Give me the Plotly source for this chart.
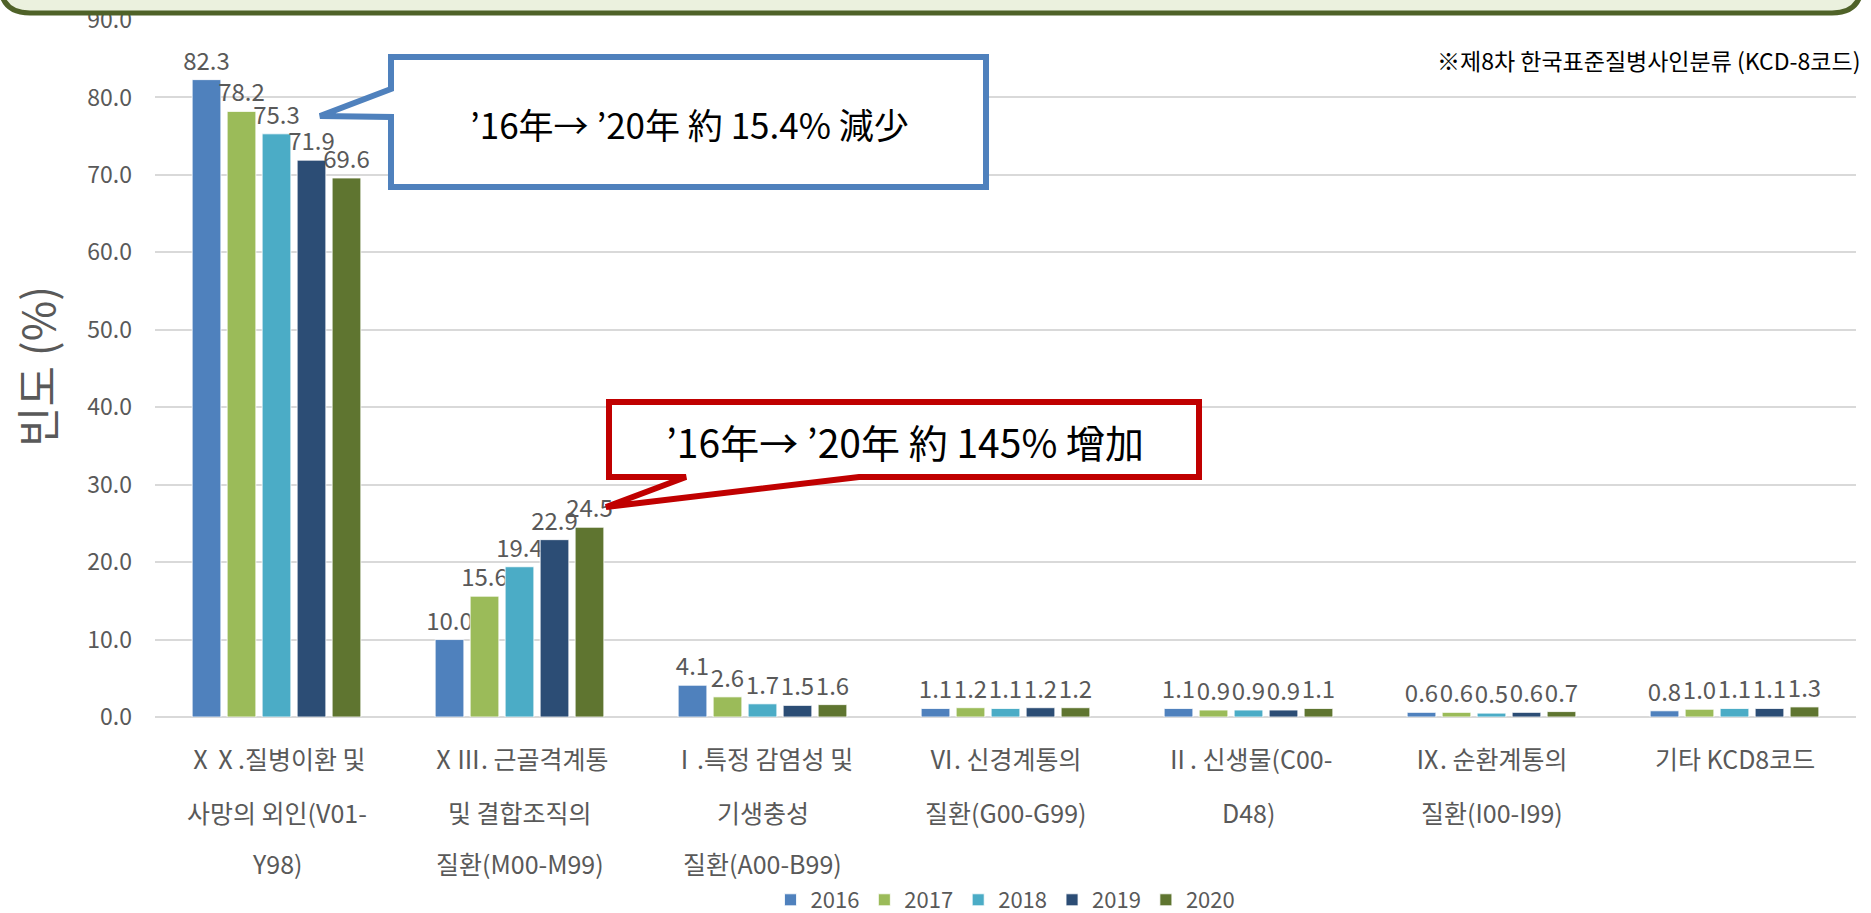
import plotly.graph_objects as go

# ---------------- data ----------------
categories = [
    "ⅩⅩ.질병이환 및 사망의 외인(V01-Y98)",
    "ⅩⅢ. 근골격계통 및 결합조직의 질환(M00-M99)",
    "Ⅰ.특정 감염성 및 기생충성 질환(A00-B99)",
    "Ⅵ. 신경계통의 질환(G00-G99)",
    "Ⅱ. 신생물(C00-D48)",
    "Ⅸ. 순환계통의 질환(I00-I99)",
    "기타 KCD8코드",
]
category_lines = [
    ["ⅩⅩ.질병이환 및", "사망의 외인(V01-", "Y98)"],
    ["ⅩⅢ. 근골격계통", "및 결합조직의", "질환(M00-M99)"],
    ["Ⅰ.특정 감염성 및", "기생충성", "질환(A00-B99)"],
    ["Ⅵ. 신경계통의", "질환(G00-G99)"],
    ["Ⅱ. 신생물(C00-", "D48)"],
    ["Ⅸ. 순환계통의", "질환(I00-I99)"],
    ["기타 KCD8코드"],
]
years = ["2016", "2017", "2018", "2019", "2020"]
v2016 = [82.3, 10.0, 4.1, 1.1, 1.1, 0.6, 0.8]
v2017 = [78.2, 15.6, 2.6, 1.2, 0.9, 0.6, 1.0]
v2018 = [75.3, 19.4, 1.7, 1.1, 0.9, 0.5, 1.1]
v2019 = [71.9, 22.9, 1.5, 1.2, 0.9, 0.6, 1.1]
v2020 = [69.6, 24.5, 1.6, 1.2, 1.1, 0.7, 1.3]
series = [v2016, v2017, v2018, v2019, v2020]
colors = ["#4F81BD", "#9BBB59", "#4BACC6", "#2C4D75", "#5F7530"]

y_title = "빈도 (%)"
note_text = "※제8차 한국표준질병사인분류 (KCD-8코드)"
callout_blue_text = "’16年→ ’20年 約 15.4% 減少"
callout_red_text = "’16年→ ’20年 約 145% 增加"

# ---------------- layout geometry ----------------
W, H = 1871, 913
L, R, T, B = 155, 15, 20, 196
PW = W - L - R
PH = H - T - B

def px(x):
    return (x - L) / PW

def py(y):
    return (H - B - y) / PH

FONT_KR = "Noto Sans CJK KR"
FONT_JP = "Noto Sans CJK JP"
GREY = "#595959"

fig = go.Figure()
for name, vals, col in zip(years, series, colors):
    fig.add_trace(go.Bar(
        x=categories, y=vals, name=name,
        marker=dict(color=col, line=dict(color="rgba(255,255,255,0.8)", width=1)),
        text=vals, texttemplate="%{y:.1f}", textposition="outside",
        textfont=dict(size=24, color=GREY, family=FONT_KR),
        cliponaxis=False, constraintext="none",
    ))

annotations = []
# category labels, multi-line with wide spacing
line_y = [758, 812, 863]
for cat, lines in zip(categories, category_lines):
    for k, ln in enumerate(lines):
        annotations.append(dict(
            x=cat, xref="x", y=py(line_y[k]), yref="paper",
            text=ln, showarrow=False, xanchor="center", yanchor="middle",
            font=dict(size=25, color=GREY, family=FONT_KR),
        ))
# y-axis title
annotations.append(dict(
    x=px(36), y=py(367), xref="paper", yref="paper", text=y_title,
    textangle=-90, showarrow=False, xanchor="center", yanchor="middle",
    font=dict(size=44, color=GREY, family=FONT_KR),
))
# note text
annotations.append(dict(
    x=px(1862), y=py(60), xref="paper", yref="paper", text=note_text,
    showarrow=False, xanchor="right", yanchor="middle",
    font=dict(size=23, color="black", family=FONT_KR),
))
# callout texts
annotations.append(dict(
    x=px(689), y=py(123), xref="paper", yref="paper", text=callout_blue_text,
    showarrow=False, xanchor="center", yanchor="middle",
    font=dict(size=35, color="black", family=FONT_JP),
))
annotations.append(dict(
    x=px(905), y=py(441), xref="paper", yref="paper", text=callout_red_text,
    showarrow=False, xanchor="center", yanchor="middle",
    font=dict(size=39, color="black", family=FONT_JP),
))

def path(points, close=True):
    s = "M " + " L ".join(f"{px(x):.5f},{py(y):.5f}" for x, y in points)
    return s + (" Z" if close else "")

shapes = []
# header banner (rounded bottom corners)
hb = (
    f"M {px(0):.5f},{py(-60):.5f} L {px(0):.5f},{py(-18):.5f} "
    f"Q {px(0):.5f},{py(13):.5f} {px(30):.5f},{py(13):.5f} "
    f"L {px(1832):.5f},{py(13):.5f} "
    f"Q {px(1862):.5f},{py(13):.5f} {px(1862):.5f},{py(-18):.5f} "
    f"L {px(1862):.5f},{py(-60):.5f} Z"
)
shapes.append(dict(type="path", path=hb, xref="paper", yref="paper",
                   fillcolor="#EBF1DE", line=dict(color="#4F6228", width=5), layer="above"))
# blue callout
blue_pts = [(391, 57), (986, 57), (986, 187), (391, 187), (391, 117), (320, 116), (391, 89)]
shapes.append(dict(type="path", path=path(blue_pts), xref="paper", yref="paper",
                   fillcolor="white", line=dict(color="#4F81BD", width=6), layer="above"))
# red callout
red_pts = [(609, 402), (1199, 402), (1199, 477), (859, 477), (606, 507), (686, 477), (609, 477)]
shapes.append(dict(type="path", path=path(red_pts), xref="paper", yref="paper",
                   fillcolor="white", line=dict(color="#C00000", width=6), layer="above"))

fig.update_layout(
    width=W, height=H,
    margin=dict(l=L, r=R, t=T, b=B, autoexpand=False),
    paper_bgcolor="white", plot_bgcolor="white",
    barmode="group", bargap=0.28, bargroupgap=0.18,
    font=dict(family=FONT_KR, color=GREY),
    showlegend=True,
    legend=dict(orientation="h", x=0.5, xanchor="center", y=py(900), yanchor="middle",
                font=dict(size=22, color=GREY, family=FONT_KR), itemwidth=30,
                traceorder="normal", tracegroupgap=0),
    annotations=annotations,
    shapes=shapes,
)
fig.update_xaxes(showticklabels=False, showgrid=False, showline=False, ticks="")
fig.update_yaxes(range=[0, 90], dtick=10, tickformat=".1f",
                 showgrid=True, gridcolor="#D9D9D9", gridwidth=1.5,
                 zeroline=True, zerolinecolor="#D9D9D9", zerolinewidth=2,
                 showline=False, ticks="", ticklabelstandoff=22,
                 tickfont=dict(size=23, color=GREY, family=FONT_KR))

fig.write_html("out.html", config={"displayModeBar": False},
               post_script="document.body.style.margin='0';document.body.style.overflow='hidden';")
